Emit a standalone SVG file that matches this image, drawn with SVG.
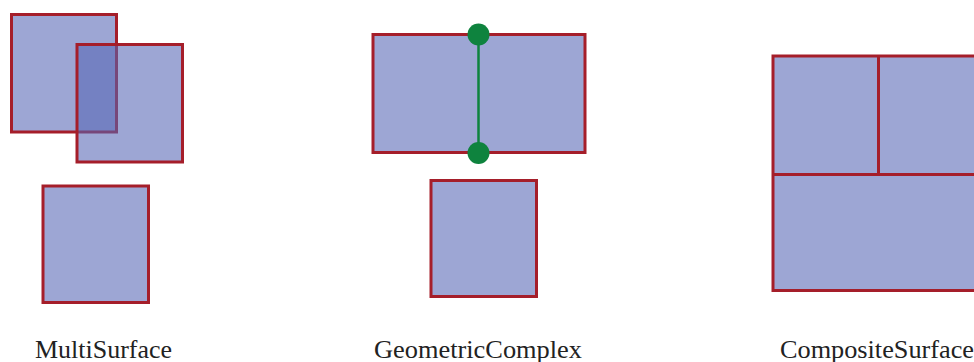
<svg xmlns="http://www.w3.org/2000/svg" width="974" height="362" viewBox="0 0 974 362">
<style>
.s{fill:#9DA6D4;stroke:#A51E2A;stroke-width:3}
.t{fill:#5666B5;fill-opacity:0.58;stroke:#A51E2A;stroke-width:3}
.lbl{font-family:"Liberation Serif","Times New Roman",serif;font-size:24.5px;fill:#222}
.g{fill:#0E833E}
</style>
<rect width="974" height="362" fill="#fff"/>
<g id="multisurface">
<rect class="s" x="11.5" y="14.5" width="105" height="117.5"/>
<rect class="t" x="77" y="44.5" width="105.5" height="117.5"/>
<rect class="s" x="43" y="186" width="105.5" height="116.5"/>
<text class="lbl" x="35" y="357.5" textLength="137" lengthAdjust="spacingAndGlyphs">MultiSurface</text>
</g>
<g id="geometriccomplex">
<rect class="s" x="373" y="34.5" width="212" height="118"/>
<rect class="s" x="431" y="180.5" width="105.5" height="116"/>
<text class="lbl" x="374" y="357.5" textLength="208" lengthAdjust="spacingAndGlyphs">GeometricComplex</text>
</g>
<g id="connectors">
<line x1="478.5" y1="34.5" x2="478.5" y2="153" stroke="#0E833E" stroke-width="2.5"/>
<circle class="g" cx="478.5" cy="34.5" r="11"/>
<circle class="g" cx="478.5" cy="153" r="11"/>
</g>
<g id="compositesurface">
<rect class="s" x="773" y="56" width="215" height="234.5"/>
<line x1="773" y1="174.5" x2="988" y2="174.5" stroke="#A51E2A" stroke-width="3"/>
<line x1="878.5" y1="56" x2="878.5" y2="174.5" stroke="#A51E2A" stroke-width="3"/>
<text class="lbl" x="780" y="357.5" textLength="194" lengthAdjust="spacingAndGlyphs">CompositeSurface</text>
</g>
</svg>
